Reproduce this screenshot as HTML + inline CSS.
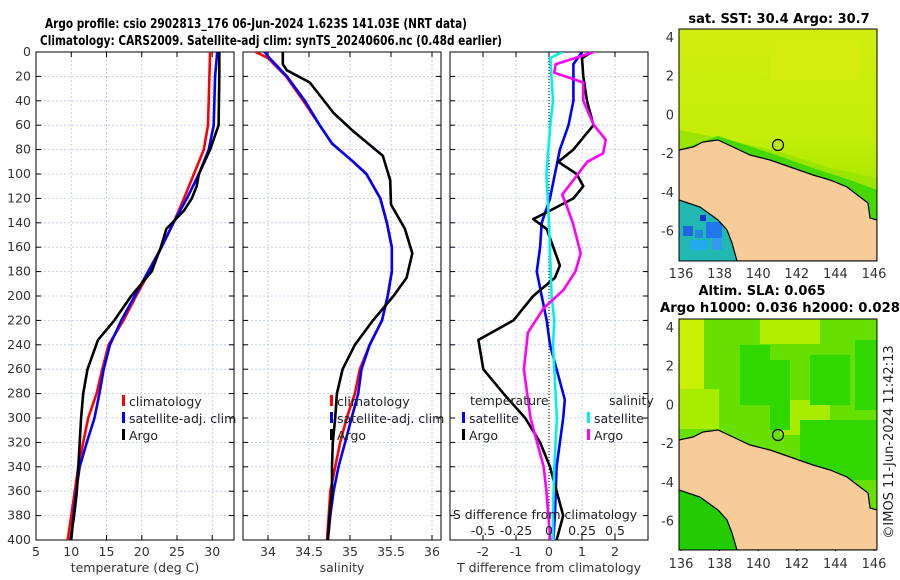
<!DOCTYPE html>
<html><head><meta charset="utf-8"><style>
body{margin:0;background:#fff}
svg{display:block;font-family:"DejaVu Sans","Liberation Sans",sans-serif}
</style></head><body>
<svg id="c" width="900" height="580" viewBox="0 0 900 580">
<defs>
<clipPath id="cp1"><rect x="36" y="52" width="198" height="488"/></clipPath>
<clipPath id="cp2"><rect x="243" y="52" width="198" height="488"/></clipPath>
<clipPath id="cp3"><rect x="450" y="52" width="198" height="488"/></clipPath>
<clipPath id="cm1"><rect x="679" y="29" width="198" height="232"/></clipPath>
<clipPath id="cm2"><rect x="679" y="319" width="198" height="231"/></clipPath>
<linearGradient id="sst" x1="0" y1="0" x2="0" y2="1"><stop offset="0" stop-color="#d0ee10"/><stop offset="0.45" stop-color="#c4ee08"/><stop offset="0.7" stop-color="#a8e800"/><stop offset="0.85" stop-color="#50d800"/></linearGradient>
</defs>
<text x="256" y="28" text-anchor="middle" font-size="13" font-weight="bold" textLength="422" lengthAdjust="spacingAndGlyphs">Argo profile: csio 2902813_176 06-Jun-2024 1.623S 141.03E (NRT data)</text>
<text x="271" y="45" text-anchor="middle" font-size="13" font-weight="bold" textLength="462" lengthAdjust="spacingAndGlyphs">Climatology: CARS2009. Satellite-adj clim: synTS_20240606.nc (0.48d earlier)</text>
<g id="panels"></g>
<g id="maps">
  <text x="779" y="23" text-anchor="middle" font-size="13" font-weight="bold">sat. SST: 30.4 Argo: 30.7</text>
  <g clip-path="url(#cm1)">
    <rect x="679" y="29" width="198" height="232" fill="url(#sst)"/>
    <rect x="770" y="40" width="90" height="40" fill="#d8ec10" opacity="0.6"/>
    <polygon points="679,130 720,138 780,152 830,168 877,178 877,261 679,261" fill="#9ae600"/>
    <polygon points="679,150 718,136 770,153 813,168 850,180 877,190 877,230 679,230" fill="#44d800"/>
    <polygon points="679,200 700,207 718,220 727,230 732,243 737,261 679,261" fill="#20b8b0"/>
    <rect x="700" y="215" width="6" height="6" fill="#1133cc"/><rect x="706" y="222" width="16" height="16" fill="#2277ee"/><rect x="683" y="226" width="10" height="10" fill="#2266dd"/><rect x="690" y="240" width="18" height="10" fill="#22aaee"/><rect x="712" y="238" width="10" height="12" fill="#3399ee"/><rect x="695" y="230" width="8" height="8" fill="#1f88dd"/>
    <polygon points="679,150 693,147 703,142 718,140 733,147 750,155 770,160 793,168 813,175 830,180 847,187 860,197 868,203 870,218 877,220 877,261 737,261 732,243 727,230 718,220 700,207 679,200" fill="#f8cc98" stroke="#000" stroke-width="1.2"/>
    <circle cx="778" cy="145" r="5.5" fill="none" stroke="#000" stroke-width="1.2"/>
  </g>
  <rect x="679" y="29" width="198" height="232" fill="none" stroke="#000" stroke-width="1"/>
  <text x="762" y="295" text-anchor="middle" font-size="13" font-weight="bold">Altim. SLA: 0.065</text>
  <text x="780" y="312" text-anchor="middle" font-size="13" font-weight="bold" textLength="240" lengthAdjust="spacingAndGlyphs">Argo h1000: 0.036 h2000: 0.028</text>
  <g clip-path="url(#cm2)">
    <rect x="679" y="319" width="198" height="231" fill="#66e000"/>
    <rect x="679" y="319" width="25" height="70" fill="#c8f000"/>
    <rect x="679" y="389" width="40" height="40" fill="#a8ec00"/>
    <rect x="760" y="319" width="60" height="25" fill="#b0ee00"/>
    <rect x="780" y="400" width="50" height="35" fill="#a8ec00"/>
    <rect x="740" y="345" width="30" height="60" fill="#30d800"/>
    <rect x="770" y="360" width="20" height="70" fill="#30d800"/>
    <rect x="810" y="355" width="40" height="50" fill="#30d800"/>
    <rect x="855" y="340" width="22" height="70" fill="#30d800"/>
    <rect x="800" y="420" width="77" height="60" fill="#30d800"/>
    <polygon points="679,490 700,497 718,510 727,520 732,533 737,550 679,550" fill="#22cc00"/>
    <polygon points="679,440 693,437 703,432 718,430 733,437 750,445 770,450 793,458 813,465 830,470 847,477 860,487 868,493 870,508 877,510 877,550 737,550 732,533 727,520 718,510 700,497 679,490" fill="#f8cc98" stroke="#000" stroke-width="1.2"/>
    <circle cx="778" cy="435" r="5.5" fill="none" stroke="#000" stroke-width="1.2"/>
  </g>
  <rect x="679" y="319" width="198" height="231" fill="none" stroke="#000" stroke-width="1"/>
  <text transform="translate(893,442) rotate(-90)" text-anchor="middle" font-size="13" fill="#222">©IMOS 11-Jun-2024 11:42:13</text>
</g>
</svg>
<script>
// ---- data ----
const depthT = [0,20,40,60,80,100,120,140,160,180,200,220,240,260,280,300,320,340,360,380,400];
const tClim  = [29.7,29.6,29.5,29.4,28.8,27.4,26.0,24.5,22.8,21.1,19.2,17.4,15.3,14.4,13.6,12.4,11.7,11.0,10.5,10.0,9.5];
const tSat   = [30.7,30.4,30.3,30.2,29.5,28.1,26.4,24.5,22.8,20.9,19.0,17.1,15.5,14.6,14.0,13.3,12.2,11.2,10.7,10.3,10.0];
const depthA = [0,5,20,60,80,100,110,120,130,145,160,180,200,220,236,260,280,300,320,340,360,380,400];
const tArgo  = [31.0,31.0,31.0,30.9,29.7,28.1,27.8,27.1,26.0,23.5,22.7,21.4,18.5,16.1,13.8,12.3,11.7,11.4,11.2,11.0,10.8,10.4,9.9];
const depthS = [0,5,20,40,60,75,90,100,120,140,160,180,200,220,240,260,280,300,320,340,360,380,400];
const sClim  = [33.85,34.0,34.22,34.43,34.63,34.78,35.04,35.20,35.37,35.45,35.51,35.51,35.46,35.39,35.24,35.12,35.06,34.96,34.88,34.82,34.76,34.74,34.72];
const sSat   = [33.96,34.02,34.23,34.45,34.63,34.78,35.04,35.20,35.37,35.45,35.51,35.51,35.46,35.39,35.24,35.14,35.10,35.02,34.94,34.86,34.80,34.76,34.73];
const depthSA= [0,10,15,25,50,65,85,105,125,145,165,185,200,220,240,260,280,300,320,340,360,380,400];
const sArgo  = [34.18,34.18,34.23,34.51,34.80,35.04,35.40,35.49,35.50,35.67,35.76,35.69,35.53,35.28,35.06,34.91,34.84,34.82,34.79,34.78,34.78,34.75,34.73];
const depthDB= [0,10,40,60,80,100,120,140,160,180,200,220,240,260,285,300,340,380,400];
const dTSat  = [1.0,0.74,0.74,0.59,0.33,0.18,0.03,-0.22,-0.27,-0.37,-0.22,-0.07,0.03,0.23,0.48,0.43,0.23,0.18,0.13];
const depthDK= [0,5,20,40,60,70,80,90,100,110,120,130,137,145,160,175,185,200,220,236,260,280,300,320,340,360,380,400];
const dTArgo = [1.3,1.0,1.04,1.15,1.35,1.04,0.74,0.28,0.84,1.04,0.74,0.03,-0.48,-0.07,0.13,0.33,0.18,-0.48,-1.08,-2.14,-1.99,-1.38,-0.72,-0.27,0.03,0.23,0.43,0.23];
const depthDC= [0,5,40,60,100,140,200,220,240,280,300,340,380,400];
const dSSat  = [0.10,0.01,0.03,0.01,-0.02,0.0,0.02,0.04,0.03,0.05,0.06,0.04,0.03,0.03];
const depthDM= [0,10,17,25,40,60,72,83,90,100,117,125,140,165,180,195,210,230,260,300,340,360,400];
const dSArgo = [0.34,0.05,0.04,0.26,0.26,0.34,0.43,0.41,0.29,0.22,0.10,0.13,0.18,0.24,0.20,0.11,-0.04,-0.16,-0.19,-0.14,-0.04,-0.02,0.01];
const depthTicks = [0,20,40,60,80,100,120,140,160,180,200,220,240,260,280,300,320,340,360,380,400];
const tTicks = [5,10,15,20,25,30];
const sTicks = [34,34.5,35,35.5,36];
const dTTicks = [-2,-1,0,1,2];
const dSTicks = [-0.5,-0.25,0,0.25,0.5];
const dSTickLabels = ["-0.5","-0.25","0","0.25","0.5"];

// ---- axes ----
const NS='http://www.w3.org/2000/svg';
const yD = d => 52 + d*488/400;
const xT = t => 36 + (t-5)*7.05;
const xS = s => 268 + (s-34)*82;
const xDT = t => 549 + t*33;
const xDS = s => 549 + s*132;
const root = document.getElementById('panels');
function mk(tag, attrs, parent){const e=document.createElementNS(NS,tag);for(const k in attrs)e.setAttribute(k,attrs[k]);(parent||root).appendChild(e);return e;}
function txt(x,y,s,attrs,parent){const e=mk('text',Object.assign({x:x,y:y,'font-size':12.5,fill:'#333'},attrs||{}),parent);e.textContent=s;return e;}

function panel(x0, name, ticks, xf, labels, xlabel, clip){
  const g = mk('g',{});
  
  
  depthTicks.forEach(d=>{ mk('line',{x1:x0,x2:x0+198,y1:yD(d),y2:yD(d),stroke:'#b8c4ee','stroke-width':0.8,'stroke-dasharray':'2,2'},g);
    mk('line',{x1:x0,x2:x0+5,y1:yD(d),y2:yD(d),stroke:'#000'},g); mk('line',{x1:x0+193,x2:x0+198,y1:yD(d),y2:yD(d),stroke:'#000'},g);});
  ticks.forEach((t,i)=>{ const x=xf(t); mk('line',{x1:x,x2:x,y1:52,y2:540,stroke:'#b8c4ee','stroke-width':0.8,'stroke-dasharray':'2,2'},g);
    mk('line',{x1:x,x2:x,y1:535,y2:540,stroke:'#000'},g); mk('line',{x1:x,x2:x,y1:52,y2:57,stroke:'#000'},g);
    const lb=txt(x,556,labels?labels[i]:String(t),{'text-anchor':'middle'},g);
    
    
  });
  const xl=txt(x0+99,572,xlabel,{'text-anchor':'middle'},g);
  
  
  mk('rect',{x:x0,y:52,width:198,height:488,fill:'none',stroke:'#000','stroke-width':1},g);
  return g;
}
function line(g, xs, ds, xf, color, clip, name){
  const pts = xs.map((v,i)=>xf(v).toFixed(1)+','+yD(ds[i]).toFixed(1)).join(' ');
  const p = mk('polyline',{points:pts,fill:'none',stroke:color,'stroke-width':2.6,'stroke-linejoin':'round','clip-path':'url(#'+clip+')'},g);
  
  
}
function legendItem(g,x,y,color,label){
  mk('rect',{x:x,y:y-6,width:3,height:11,fill:color},g);
  const t=txt(x+7,y+5,label,{'font-size':12.5,fill:'#222'},g);
  
  
}

depthTicks.forEach(d=>{ const t=txt(31,yD(d)+4,String(d),{'text-anchor':'end'});  });

const g1 = panel(36,'temperature-panel',tTicks,xT,null,'temperature (deg C)','cp1');
line(g1,tClim,depthT,xT,'#ff0000','cp1','temp-climatology-line');
line(g1,tSat,depthT,xT,'#0000ff','cp1','temp-satellite-line');
line(g1,tArgo,depthA,xT,'#000000','cp1','temp-argo-line');
legendItem(g1,122,401,'#ff0000','climatology');
legendItem(g1,122,418,'#0000ff','satellite-adj. clim');
legendItem(g1,122,435,'#000000','Argo');

const g2 = panel(243,'salinity-panel',sTicks,xS,null,'salinity','cp2');
line(g2,sClim,depthS,xS,'#ff0000','cp2','sal-climatology-line');
line(g2,sSat,depthS,xS,'#0000ff','cp2','sal-satellite-line');
line(g2,sArgo,depthSA,xS,'#000000','cp2','sal-argo-line');
legendItem(g2,330,401,'#ff0000','climatology');
legendItem(g2,330,418,'#0000ff','satellite-adj. clim');
legendItem(g2,330,435,'#000000','Argo');

const g3 = panel(450,'difference-panel',dTTicks,xDT,null,'T difference from climatology','cp3');
mk('line',{x1:549,x2:549,y1:52,y2:540,stroke:'#000','stroke-width':1,'stroke-dasharray':'1,2'},g3);
line(g3,dTSat,depthDB,xDT,'#0000ff','cp3','tdiff-satellite-line');
line(g3,dTArgo,depthDK,xDT,'#000000','cp3','tdiff-argo-line');
line(g3,dSSat,depthDC,xDS,'#00f0f0','cp3','sdiff-satellite-line');
line(g3,dSArgo,depthDM,xDS,'#ff00ff','cp3','sdiff-argo-line');
txt(470,405,'temperature',{fill:'#222'},g3);
txt(609,405,'salinity',{fill:'#222'},g3);
legendItem(g3,462,418,'#0000ff','satellite');
legendItem(g3,462,435,'#000000','Argo');
legendItem(g3,587,418,'#00f0f0','satellite');
legendItem(g3,587,435,'#ff00ff','Argo');
const st=txt(545,519,'S difference from climatology',{'text-anchor':'middle',fill:'#222'},g3);


dSTicks.forEach((s,i)=>{ const t=txt(xDS(s),535,dSTickLabels[i],{'text-anchor':'middle',fill:'#222'},g3);
  
  });

const mapLon=[136,138,140,142,144,146], mapLat=[4,2,0,-2,-4,-6];
const lonX = l => 681 + (l-136)*19.3;
const latY = l => 37 + (4-l)*19.35;
[[0,278],[290,568]].forEach(([off,ly])=>{
  mapLon.forEach(l=>{ const x=lonX(l); mk('line',{x1:x,x2:x,y1:off+29,y2:off+33,stroke:'#000'}); mk('line',{x1:x,x2:x,y1:off+257,y2:off+261,stroke:'#000'});
    const t=txt(x,ly,String(l),{'text-anchor':'middle',fill:'#333','font-size':13});  });
  mapLat.forEach(l=>{ const y=off+latY(l); mk('line',{x1:873,x2:877,y1:y,y2:y,stroke:'#000'});
    const t=txt(674,y+5,String(l),{'text-anchor':'end',fill:'#333','font-size':13});  });
});
</script>
</body></html>
